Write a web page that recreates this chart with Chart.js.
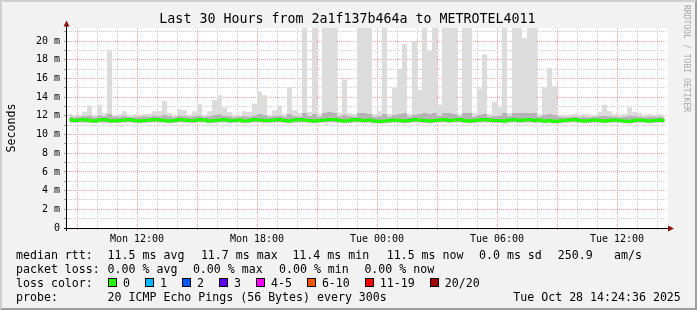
<!DOCTYPE html>
<html>
<head>
<meta charset="utf-8">
<script src="https://cdn.jsdelivr.net/npm/chart.js@4.4.1/dist/chart.umd.min.js"></script>
<style>
  body { margin: 0; background: #fff; }
  #wrap { position: relative; width: 697px; height: 310px; background: #f2f2f2; overflow: hidden; }
  #graph { position: absolute; left: 0; top: 0; }
  #frame { position: absolute; left: 0; top: 0; width: 697px; height: 310px; box-sizing: border-box;
           border-style: solid; border-width: 2px; border-color: #cfcfcf #9e9e9e #9e9e9e #cfcfcf; }
  .txt { position: absolute; font-family: "DejaVu Sans Mono", monospace; white-space: pre; color: #000; }
  .leg { font-size: 11.6px; line-height: 14px; }
  .box { display: inline-block; width: 9px; height: 9px; box-sizing: border-box; border: 1px solid #000;
         vertical-align: top; margin-top: 2.5px; margin-right: 6px; }
</style>
</head>
<body>
<div id="wrap">
  <canvas id="graph" width="697" height="310"></canvas>
  <div id="frame"></div>
  <div class="txt" style="left:0;top:11px;width:695px;text-align:center;font-size:13.3px;line-height:16px;">Last 30 Hours from 2a1f137b464a to METROTEL4011</div>
  <div class="txt" style="left:-39px;top:121px;width:100px;text-align:center;font-size:11.6px;line-height:14px;transform:rotate(-90deg);">Seconds</div>
  <div class="txt" style="left:682px;top:5px;font-size:8.1px;line-height:10px;color:#a8a8a8;writing-mode:vertical-rl;">RRDTOOL / TOBI OETIKER</div>
  <div id="legend"></div>
</div>
<script>
// zeitachse: stunden ab Montag 00:00, 15-min schritte
const startHour = 8.5;
const stepHours = 0.25;

const xTickHours = [12, 18, 24, 30, 36];
const xTickLabels = ["Mon 12:00", "Mon 18:00", "Tue 00:00", "Tue 06:00", "Tue 12:00"];
const yTickValues = [0, 2, 4, 6, 8, 10, 12, 14, 16, 18, 20];
const yTickLabels = ["0", "2 m", "4 m", "6 m", "8 m", "10 m", "12 m", "14 m", "16 m", "18 m", "20 m"];

// median rtt (ms)
const median = [
  11.6, 11.5, 11.55, 11.6, 11.5, 11.45, 11.55, 11.6, 11.5, 11.45,
  11.5, 11.55, 11.6, 11.5, 11.45, 11.5, 11.55, 11.6, 11.55, 11.5,
  11.45, 11.5, 11.6, 11.55, 11.5, 11.5, 11.6, 11.55, 11.45, 11.5,
  11.55, 11.6, 11.5, 11.5, 11.55, 11.45, 11.5, 11.6, 11.55, 11.5,
  11.5, 11.55, 11.6, 11.5, 11.45, 11.55, 11.6, 11.55, 11.5, 11.45,
  11.5, 11.55, 11.6, 11.6, 11.5, 11.45, 11.5, 11.6, 11.55, 11.5,
  11.55, 11.45, 11.4, 11.45, 11.5, 11.55, 11.5, 11.45, 11.5, 11.6,
  11.55, 11.5, 11.45, 11.5, 11.55, 11.6, 11.5, 11.55, 11.6, 11.5,
  11.45, 11.5, 11.55, 11.6, 11.55, 11.5, 11.5, 11.45, 11.55, 11.6,
  11.5, 11.55, 11.6, 11.5, 11.55, 11.45, 11.5, 11.4, 11.45, 11.5,
  11.55, 11.6, 11.5, 11.45, 11.5, 11.55, 11.5, 11.45, 11.5, 11.55,
  11.5, 11.45, 11.4, 11.5, 11.55, 11.5, 11.45, 11.5, 11.55, 11.5
];

// smoke: obere grenze (max ping)
const smokeMax = [
  12.2, 12.1, 12.0, 12.4, 13.1, 12.1, 13.2, 12.3, 18.9, 12.1,
  12.2, 12.5, 12.1, 12.0, 12.0, 12.2, 12.2, 12.5, 12.5, 13.6,
  12.3, 12.0, 12.7, 12.6, 12.1, 12.5, 13.3, 12.1, 12.5, 13.7,
  14.2, 12.9, 12.4, 12.0, 12.1, 12.5, 12.4, 13.3, 14.6, 14.2,
  12.1, 12.6, 13.1, 12.2, 15.1, 12.6, 12.3, 21.5, 12.4, 21.5,
  12.2, 21.5, 21.5, 21.5, 12.3, 15.9, 12.3, 12.2, 21.5, 21.5,
  21.5, 12.2, 12.5, 21.5, 12.2, 15.0, 17.0, 19.7, 12.2, 20.0,
  14.8, 21.5, 18.9, 21.5, 13.2, 21.5, 21.5, 21.5, 12.2, 21.5,
  21.5, 12.3, 14.9, 18.6, 12.2, 13.5, 12.9, 21.5, 12.3, 21.5,
  21.5, 20.3, 21.5, 21.5, 12.2, 15.1, 17.1, 15.2, 12.1, 12.0,
  12.0, 12.2, 12.0, 12.2, 12.0, 12.1, 12.4, 13.2, 12.5, 12.2,
  12.0, 12.2, 12.9, 12.4, 12.3, 12.0, 12.2, 12.1, 12.2, 12.0
];

// smoke: untere grenze (min ping)
const smokeMin = [
  11.2, 11.25, 11.2, 11.2, 11.25, 11.2, 11.2, 11.15, 11.2, 11.25,
  11.2, 11.2, 11.25, 11.2, 11.15, 11.2, 11.2, 11.25, 11.2, 11.2,
  11.15, 11.2, 11.25, 11.2, 11.2, 11.2, 11.25, 11.2, 11.15, 11.2,
  11.2, 11.25, 11.2, 11.2, 11.2, 11.15, 11.2, 11.25, 11.2, 11.2,
  11.2, 11.2, 11.25, 11.2, 11.15, 11.2, 11.25, 11.2, 11.2, 11.15,
  11.2, 11.2, 11.25, 11.25, 11.2, 11.15, 11.2, 11.25, 11.2, 11.2,
  11.2, 11.15, 11.1, 11.15, 11.2, 11.2, 11.2, 11.15, 11.2, 11.25,
  11.2, 11.2, 11.15, 11.2, 11.2, 11.25, 11.2, 11.2, 11.25, 11.2,
  11.15, 11.2, 11.2, 11.25, 11.2, 11.2, 11.2, 11.15, 11.2, 11.25,
  11.2, 11.2, 11.25, 11.2, 11.2, 11.15, 11.2, 11.1, 11.15, 11.2,
  11.2, 11.25, 11.2, 11.15, 11.2, 11.2, 11.2, 11.15, 11.2, 11.2,
  11.2, 11.15, 11.1, 11.2, 11.2, 11.2, 11.15, 11.2, 11.2, 11.2
];

// dichter kern der smoke
const coreHi = [
  11.9, 11.85, 11.9, 11.95, 12.0, 11.85, 12.05, 11.95, 12.2, 11.9,
  11.9, 12.0, 11.85, 11.85, 11.9, 11.95, 11.9, 12.0, 11.95, 12.1,
  11.95, 11.85, 12.0, 11.95, 11.9, 11.95, 12.05, 11.9, 11.95, 12.1,
  12.15, 12.0, 11.95, 11.85, 11.9, 11.95, 11.9, 12.05, 12.2, 12.1,
  11.9, 11.95, 12.0, 11.9, 12.2, 11.95, 11.9, 12.3, 11.95, 12.2,
  11.9, 12.3, 12.4, 12.3, 11.95, 12.1, 11.95, 11.9, 12.3, 12.3,
  12.2, 11.9, 11.95, 12.2, 11.9, 12.1, 12.2, 12.3, 11.9, 12.1,
  12.2, 12.3, 12.2, 12.3, 12.0, 12.3, 12.3, 12.2, 11.95, 12.3,
  12.3, 11.9, 12.1, 12.2, 11.9, 11.95, 12.0, 12.3, 11.95, 12.3,
  12.3, 12.3, 12.3, 12.3, 11.9, 12.1, 12.2, 12.1, 11.9, 11.85,
  11.85, 11.9, 11.85, 11.9, 11.85, 11.9, 11.95, 12.0, 11.95, 11.9,
  11.85, 11.9, 12.0, 11.95, 11.9, 11.85, 11.9, 11.9, 11.9, 11.85
];
const coreLo = [
  11.35, 11.3, 11.35, 11.35, 11.3, 11.3, 11.35, 11.35, 11.3, 11.3,
  11.3, 11.35, 11.35, 11.3, 11.3, 11.3, 11.35, 11.35, 11.35, 11.3,
  11.3, 11.3, 11.35, 11.35, 11.3, 11.3, 11.35, 11.35, 11.3, 11.3,
  11.35, 11.35, 11.3, 11.3, 11.35, 11.3, 11.3, 11.35, 11.35, 11.3,
  11.3, 11.35, 11.35, 11.3, 11.3, 11.35, 11.35, 11.35, 11.3, 11.3,
  11.3, 11.35, 11.35, 11.35, 11.3, 11.3, 11.3, 11.35, 11.35, 11.3,
  11.35, 11.3, 11.25, 11.3, 11.3, 11.35, 11.3, 11.3, 11.3, 11.35,
  11.35, 11.3, 11.3, 11.3, 11.35, 11.35, 11.3, 11.35, 11.35, 11.3,
  11.3, 11.3, 11.35, 11.35, 11.35, 11.3, 11.3, 11.3, 11.35, 11.35,
  11.3, 11.35, 11.35, 11.3, 11.35, 11.3, 11.3, 11.25, 11.3, 11.3,
  11.35, 11.35, 11.3, 11.3, 11.3, 11.35, 11.3, 11.3, 11.3, 11.35,
  11.3, 11.3, 11.25, 11.3, 11.35, 11.3, 11.3, 11.3, 11.35, 11.3
];

const lossColors = ["#26ff00", "#00b8ff", "#0059ff", "#5e00ff", "#ff00ff", "#ff5500", "#ff0000", "#a00000"];
const lossLabels = ["0", "1", "2", "3", "4-5", "6-10", "11-19", "20/20"];

const MONO = "DejaVu Sans Mono";
const RED_GRID = "#f0a0a0";
const GRAY_GRID = "#cccccc";

const pts = (arr) => arr.map((v, i) => ({ x: startHour + stepHours * (i + 0.5), y: v }));

// legende unten
const legend = document.getElementById("legend");
function put(x, y, text) {
  const d = document.createElement("div");
  d.className = "txt leg";
  d.style.left = x + "px";
  d.style.top = y + "px";
  d.textContent = text;
  legend.appendChild(d);
  return d;
}
const rows = [247.5, 261.5, 275.5, 289.5];
put(16, rows[0], "median rtt:");
put(107.6, rows[0], "11.5 ms avg");
put(200.9, rows[0], "11.7 ms max");
put(292.4, rows[0], "11.4 ms min");
put(386.7, rows[0], "11.5 ms now");
put(479, rows[0], "0.0 ms sd");
put(557.8, rows[0], "250.9");
put(614, rows[0], "am/s");
put(16, rows[1], "packet loss:");
put(107.6, rows[1], "0.00 % avg");
put(192.9, rows[1], "0.00 % max");
put(279, rows[1], "0.00 % min");
put(364.4, rows[1], "0.00 % now");
put(16, rows[2], "loss color:");
const lc = put(108, rows[2], "");
lossColors.forEach((c, i) => {
  const b = document.createElement("span");
  b.className = "box";
  b.style.background = c;
  lc.appendChild(b);
  const t = document.createElement("span");
  t.textContent = lossLabels[i];
  t.style.marginRight = "15px";
  lc.appendChild(t);
});
put(16, rows[3], "probe:");
put(107.6, rows[3], "20 ICMP Echo Pings (56 Bytes) every 300s");
put(513.3, rows[3], "Tue Oct 28 14:24:36 2025");

// weisser plot-hintergrund, achsen und pfeile
const rrdLook = {
  id: "rrdLook",
  beforeDraw(chart) {
    const { ctx, chartArea: a } = chart;
    ctx.save();
    ctx.fillStyle = "#ffffff";
    ctx.fillRect(a.left, a.top, a.right - a.left + 1, a.bottom - a.top);
    ctx.restore();
  },
  afterDraw(chart) {
    const { ctx, chartArea: a } = chart;
    ctx.save();
    ctx.strokeStyle = "#000";
    ctx.lineWidth = 1;
    ctx.beginPath();
    ctx.moveTo(a.left - 0.5, a.bottom + 3);
    ctx.lineTo(a.left - 0.5, a.top - 3);
    ctx.moveTo(a.left - 3, a.bottom + 0.5);
    ctx.lineTo(a.right + 1, a.bottom + 0.5);
    ctx.stroke();
    ctx.fillStyle = "#8b1414";
    ctx.beginPath();
    ctx.moveTo(a.left - 0.5, a.top - 7.5);
    ctx.lineTo(a.left - 3.5, a.top - 1.5);
    ctx.lineTo(a.left + 2.5, a.top - 1.5);
    ctx.closePath();
    ctx.fill();
    ctx.beginPath();
    ctx.moveTo(a.right + 7, a.bottom + 0.5);
    ctx.lineTo(a.right + 1, a.bottom - 2.5);
    ctx.lineTo(a.right + 1, a.bottom + 3.5);
    ctx.closePath();
    ctx.fill();
    ctx.restore();
  }
};

const hourGrid = [];
for (let h = 9; h <= 38; h++) hourGrid.push(h);
const msGrid = [];
for (let m = 0; m <= 21; m++) msGrid.push(m);

new Chart(document.getElementById("graph"), {
  type: "line",
  data: {
    datasets: [
      { data: pts(smokeMin), borderColor: "transparent", borderWidth: 0, fill: false, stepped: "middle", order: 2 },
      { data: pts(smokeMax), borderColor: "transparent", borderWidth: 0, backgroundColor: "#dcdcdc", fill: 0, stepped: "middle", order: 2 },
      { data: pts(coreLo), borderColor: "transparent", borderWidth: 0, fill: false, stepped: "middle", order: 1 },
      { data: pts(coreHi), borderColor: "transparent", borderWidth: 0, backgroundColor: "#b4b4b4", fill: 2, stepped: "middle", order: 1 },
      { data: pts(median), borderColor: "#22ff00", borderWidth: 3, fill: false, stepped: "middle", order: 0 },
    ],
  },
  options: {
    responsive: false,
    animation: false,
    devicePixelRatio: 1,
    layout: { padding: { left: 0, top: 28, right: 30, bottom: 0 } },
    elements: { point: { radius: 0 }, line: { tension: 0 } },
    plugins: { legend: { display: false }, tooltip: { enabled: false }, title: { display: false } },
    scales: {
      x: {
        type: "linear",
        min: startHour,
        max: startHour + 30,
        afterBuildTicks: (s) => { s.ticks = hourGrid.map((v) => ({ value: v })); },
        afterFit: (s) => { s.height = 82; s.paddingLeft = 0; s.paddingRight = 0; },
        border: { display: false, dash: [1, 1] },
        grid: {
          color: (c) => (c.tick && c.tick.value % 3 === 0 ? RED_GRID : GRAY_GRID),
          tickColor: (c) => (c.tick && c.tick.value % 3 === 0 ? "#e07070" : "#c0c0c0"),
          tickLength: 2,
          tickBorderDash: [],
        },
        ticks: {
          autoSkip: false,
          maxRotation: 0,
          padding: 3,
          color: "#000",
          font: { family: MONO, size: 10 },
          callback: (v) => { const i = xTickHours.indexOf(v); return i >= 0 ? xTickLabels[i] : ""; },
        },
      },
      y: {
        min: 0,
        max: 21.4,
        afterBuildTicks: (s) => { s.ticks = msGrid.map((v) => ({ value: v })); },
        afterFit: (s) => { s.width = 67; s.paddingTop = 0; s.paddingBottom = 0; },
        border: { display: false, dash: [1, 1] },
        grid: {
          color: (c) => (c.tick && c.tick.value % 2 === 0 ? RED_GRID : GRAY_GRID),
          tickColor: "#999",
          tickLength: 3,
          tickBorderDash: [],
        },
        ticks: {
          autoSkip: false,
          padding: 4,
          color: "#000",
          font: { family: MONO, size: 10 },
          callback: (v) => { const i = yTickValues.indexOf(v); return i >= 0 ? yTickLabels[i] : ""; },
        },
      },
    },
  },
  plugins: [rrdLook],
});
</script>
</body>
</html>
